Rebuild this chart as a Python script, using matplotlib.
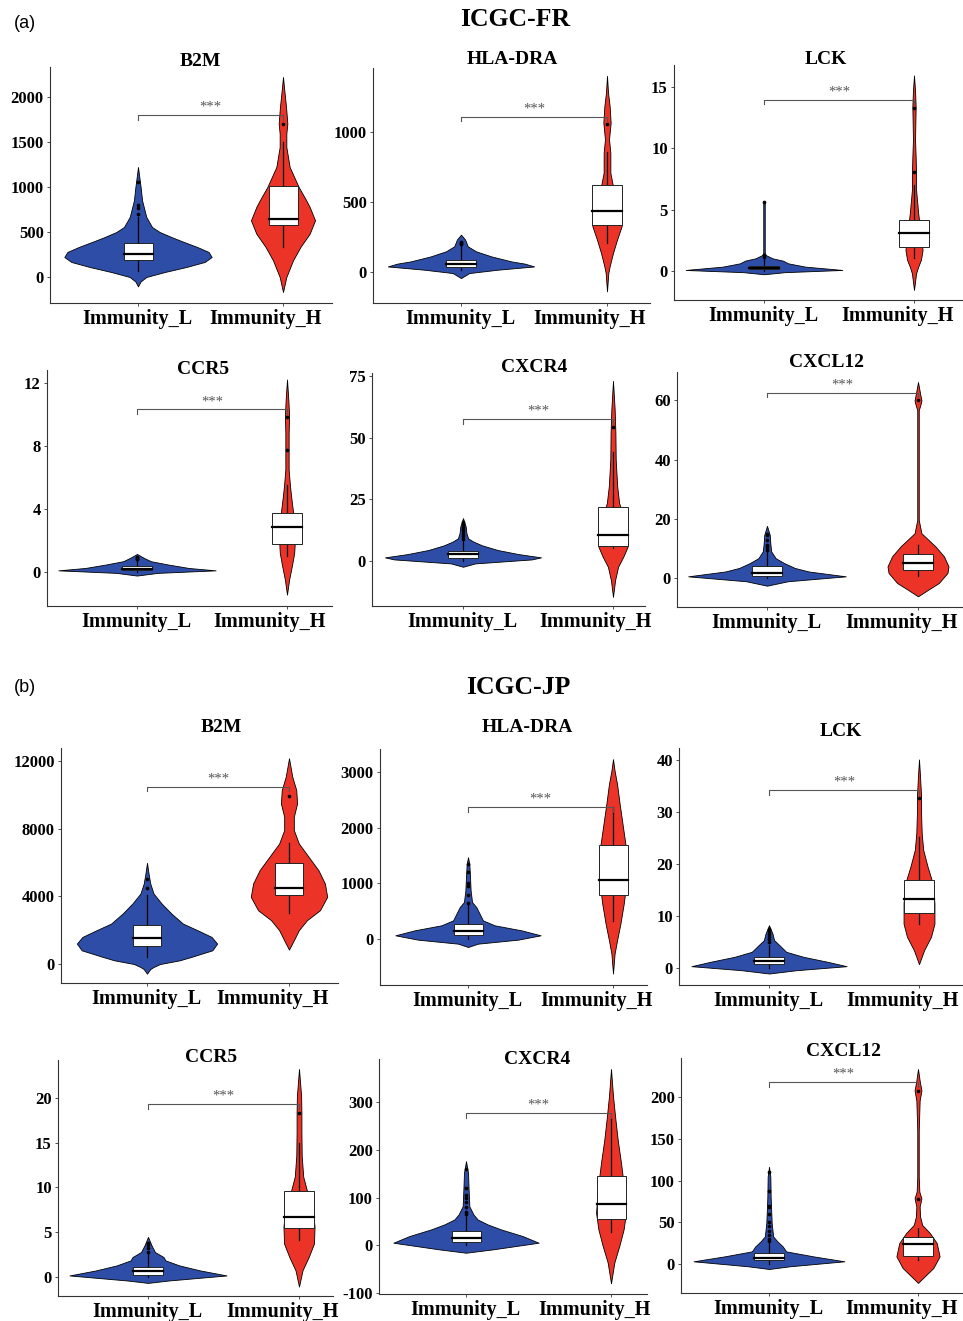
import matplotlib.pyplot as plt
from matplotlib.patches import Rectangle

W, H = 963, 1321
SERIF = "Liberation Serif"
BLUE = "#2E4DA7"
RED = "#EC3327"

groups = ["Immunity_L", "Immunity_H"]

# violin outlines: expression level (y) and half width in category units (w)
# box stats: (whisker low, q1, median, q3, whisker high)

# ---------- ICGC-FR ----------
fr_b2m_l_y = [-104, -50, 0, 55, 111, 167, 222, 278, 333, 400, 444, 500, 555, 667, 852, 1000, 1222]
fr_b2m_l_w = [0, .018, .057, .184, .333, .46, .508, .487, .409, .299, .23, .149, .097, .057, .028, .018, 0]
fr_b2m_h_y = [-167, 0, 185, 333, 481, 630, 778, 852, 1000, 1222, 1444, 1593, 1704, 1889, 2074, 2222]
fr_b2m_h_w = [0, .023, .069, .12, .184, .221, .184, .16, .108, .046, .023, .023, .03, .021, .009, 0]
fr_b2m_box = [(67, 185, 259, 378, 667), (333, 574, 648, 1007, 1500)]
fr_b2m_out = [[700, 770, 800, 1050], [1700]]

fr_hla_l_y = [-43, -7, 17, 40, 60, 76, 94, 112, 148, 184, 232, 267]
fr_hla_l_w = [0, .057, .253, .501, .437, .345, .276, .207, .103, .046, .028, 0]
fr_hla_h_y = [-138, -7, 40, 136, 232, 327, 422, 520, 613, 709, 852, 948, 1067, 1186, 1282, 1401]
fr_hla_h_w = [0, .009, .018, .041, .069, .1, .101, .069, .041, .023, .023, .014, .025, .018, .007, 0]
fr_hla_box = [(17, 33, 60, 88, 190), (208, 334, 434, 621, 857)]
fr_hla_out = [[200, 210, 215], [1060]]

fr_lck_l_y = [-0.27, -0.1, 0.08, 0.2, 0.35, 0.62, 0.84, 1.03, 1.3, 1.5, 5.5, 5.7]
fr_lck_l_w = [0, .138, .522, .414, .276, .161, .126, .057, .011, .005, .005, 0]
fr_lck_h_y = [-1.55, -0.19, 0.35, 0.9, 1.7, 2.5, 3.6, 4.7, 6.6, 7.9, 9.3, 10.7, 13.4, 14.7, 15.95]
fr_lck_h_w = [0, .014, .028, .046, .057, .051, .039, .028, .014, .014, .011, .007, .011, .007, 0]
fr_lck_box = [(0.0, 0.14, 0.27, 0.43, 1.0), (1.03, 1.93, 3.07, 4.15, 7.0)]
fr_lck_out = [[1.1, 1.3, 5.6], [8.1, 13.3]]

fr_ccr5_l_y = [-0.23, -0.06, 0.1, 0.25, 0.47, 0.68, 0.89, 1.04, 1.14]
fr_ccr5_l_w = [0, .138, .524, .345, .207, .092, .046, .018, 0]
fr_ccr5_h_y = [-1.44, -0.49, 0.36, 1.2, 2.05, 2.9, 3.75, 4.6, 5.44, 6.5, 7.55, 8.8, 9.9, 10.9, 12.2]
fr_ccr5_h_w = [0, .014, .032, .048, .053, .051, .041, .03, .02, .011, .011, .011, .014, .009, 0]
fr_ccr5_box = [(0.0, 0.1, 0.21, 0.36, 0.7), (1.0, 1.74, 2.84, 3.75, 5.5)]
fr_ccr5_out = [[0.8, 0.85, 0.9, 0.95], [7.7, 9.8]]

fr_cxcr4_l_y = [-2.3, -0.95, 0.68, 1.5, 2.85, 4.5, 6.4, 7.9, 9.2, 11.3, 14, 17.4]
fr_cxcr4_l_w = [0, .08, .46, .52, .368, .23, .126, .069, .034, .023, .018, 0]
fr_cxcr4_h_y = [-14.5, -7.7, -2.3, 1.8, 5.8, 11.3, 18, 23.5, 30.3, 41.1, 52, 61.5, 73]
fr_cxcr4_h_w = [0, .014, .034, .069, .097, .092, .069, .041, .028, .018, .016, .011, 0]
fr_cxcr4_box = [(0.0, 1.2, 2.7, 3.9, 8.5), (5.2, 6.1, 10.6, 22.1, 44)]
fr_cxcr4_out = [[9, 10, 11, 12, 13, 14, 15, 16], [54.5]]

fr_cxcl12_l_y = [-2.6, -1.1, 0.56, 2.2, 3.4, 5.0, 6.7, 9.0, 11.2, 14.6, 17.6]
fr_cxcl12_l_w = [0, .138, .522, .276, .184, .115, .057, .028, .023, .018, 0]
fr_cxcl12_h_y = [-6.2, -3.9, -1.7, 1.7, 3.9, 7.3, 10.7, 12.9, 15.1, 19.6, 56.7, 58.9, 60, 62.3, 66.2]
fr_cxcl12_h_w = [0, .069, .138, .195, .202, .172, .115, .069, .023, .005, .005, .018, .023, .014, 0]
fr_cxcl12_box = [(0.0, 0.56, 1.6, 3.9, 9.0), (0.6, 2.6, 5.2, 8.1, 11)]
fr_cxcl12_out = [[9.5, 10.5, 11, 13, 14.5, 15], [60]]

# ---------- ICGC-JP ----------
jp_b2m_l_y = [-572, -300, -178, 0, 217, 414, 809, 1204, 1598, 1993, 2387, 2979, 3571, 4163, 4755, 5347, 5978]
jp_b2m_l_w = [0, .023, .046, .092, .23, .31, .46, .494, .455, .356, .253, .172, .103, .046, .023, .011, 0]
jp_b2m_h_y = [848, 1401, 1993, 2585, 3177, 3966, 4755, 5544, 6333, 7123, 7912, 8701, 9490, 10279, 11069, 12154]
jp_b2m_h_w = [0, .034, .069, .126, .218, .269, .253, .207, .138, .069, .034, .034, .057, .051, .023, 0]
jp_b2m_box = [(414, 1065, 1539, 2289, 4064), (3019, 4064, 4518, 5939, 7123)]
jp_b2m_out = [[4500, 5000], [9900]]

jp_hla_l_y = [-144, -84, -12, 66, 156, 246, 335, 455, 575, 665, 874, 1114, 1353, 1473]
jp_hla_l_w = [0, .069, .345, .501, .368, .184, .103, .08, .057, .028, .018, .014, .009, 0]
jp_hla_h_y = [-623, -263, -24, 275, 635, 1114, 1593, 2012, 2431, 2790, 3030, 3240]
jp_hla_h_w = [0, .011, .028, .051, .074, .097, .092, .069, .046, .028, .011, 0]
jp_hla_box = [(0, 66, 144, 275, 640), (317, 796, 1066, 1695, 2371)]
jp_hla_out = [[650, 800, 950, 1000, 1200, 1350], []]

jp_lck_l_y = [-1.09, -0.45, 0.32, 1.16, 2.12, 3.08, 4.37, 5.33, 6.6, 8.2]
jp_lck_l_w = [0, .184, .517, .391, .23, .115, .069, .034, .023, 0]
jp_lck_h_y = [0.71, 3.4, 5.97, 8.5, 12.4, 16.2, 19.5, 22.7, 25.9, 29.7, 32.9, 36.8, 40.1]
jp_lck_h_w = [0, .034, .08, .103, .103, .092, .057, .028, .018, .014, .014, .007, 0]
jp_lck_box = [(0, 0.71, 1.35, 2.12, 4.4), (8.5, 10.6, 13.2, 16.9, 25.2)]
jp_lck_out = [[5, 5.5, 6, 6.5, 7, 7.5], [32.6]]

jp_ccr5_l_y = [-0.64, -0.37, 0.19, 0.75, 1.31, 1.87, 2.24, 2.8, 3.55, 4.49]
jp_ccr5_l_w = [0, .138, .52, .345, .207, .115, .103, .046, .023, 0]
jp_ccr5_h_y = [-1.05, 0.75, 2.24, 3.74, 5.6, 7.5, 9.35, 11.2, 13.5, 16.1, 18.3, 20.2, 23.2]
jp_ccr5_h_w = [0, .023, .064, .099, .103, .092, .057, .028, .018, .016, .016, .014, 0]
jp_ccr5_box = [(0, 0.19, 0.67, 1.12, 2.7), (4.1, 5.5, 6.65, 9.6, 15)]
jp_ccr5_out = [[2.8, 3.2, 3.6, 3.8], [18.3]]

jp_cxcr4_l_y = [-15.4, -8.4, 5.6, 19.5, 33.5, 44, 54.4, 65, 82, 117, 152, 176.6]
jp_cxcr4_l_w = [0, .184, .501, .391, .241, .149, .08, .051, .023, .018, .014, 0]
jp_cxcr4_h_y = [-79.6, -36, -1.4, 33.5, 68.4, 117, 173, 222, 271, 313, 370]
jp_cxcr4_h_w = [0, .023, .057, .087, .103, .092, .069, .046, .028, .014, 0]
jp_cxcr4_box = [(0, 7.7, 14.7, 30, 61), (28.6, 54.4, 85.8, 145, 267)]
jp_cxcr4_out = [[65, 70, 80, 90, 100, 105, 120, 160], []]

jp_cxcl12_l_y = [-6, -2.8, 3.2, 9.1, 15.1, 21.1, 27, 33, 49, 80.7, 104.6, 116.5]
jp_cxcl12_l_w = [0, .138, .506, .299, .115, .092, .057, .028, .018, .011, .009, 0]
jp_cxcl12_h_y = [-22.7, -14.7, -4.8, 9.1, 25, 37, 46.9, 56.9, 68.8, 78.7, 86.7, 104.6, 160, 196, 208, 220, 233.8]
jp_cxcl12_h_w = [0, .046, .103, .145, .126, .08, .028, .014, .011, .023, .009, .005, .005, .011, .023, .011, 0]
jp_cxcl12_box = [(0, 5.2, 7.2, 13.1, 25), (5.2, 9.9, 23.9, 31.8, 43)]
jp_cxcl12_out = [[27, 30, 35, 40, 45, 50, 60, 68, 70, 88, 110], [77.5, 208]]

# significance bracket heights
fr_brackets = [1796, 1110, 13.97, 10.3, 57.4, 62.6]
jp_brackets = [10476, 2371, 34.2, 19.25, 277.8, 218]

panels = [
    ("B2M", (fr_b2m_l_y, fr_b2m_l_w), (fr_b2m_h_y, fr_b2m_h_w), fr_b2m_box, fr_b2m_out, fr_brackets[0],
     [0, 500, 1000, 1500, 2000]),
    ("HLA-DRA", (fr_hla_l_y, fr_hla_l_w), (fr_hla_h_y, fr_hla_h_w), fr_hla_box, fr_hla_out, fr_brackets[1],
     [0, 500, 1000]),
    ("LCK", (fr_lck_l_y, fr_lck_l_w), (fr_lck_h_y, fr_lck_h_w), fr_lck_box, fr_lck_out, fr_brackets[2],
     [0, 5, 10, 15]),
    ("CCR5", (fr_ccr5_l_y, fr_ccr5_l_w), (fr_ccr5_h_y, fr_ccr5_h_w), fr_ccr5_box, fr_ccr5_out, fr_brackets[3],
     [0, 4, 8, 12]),
    ("CXCR4", (fr_cxcr4_l_y, fr_cxcr4_l_w), (fr_cxcr4_h_y, fr_cxcr4_h_w), fr_cxcr4_box, fr_cxcr4_out,
     fr_brackets[4], [0, 25, 50, 75]),
    ("CXCL12", (fr_cxcl12_l_y, fr_cxcl12_l_w), (fr_cxcl12_h_y, fr_cxcl12_h_w), fr_cxcl12_box, fr_cxcl12_out,
     fr_brackets[5], [0, 20, 40, 60]),
    ("B2M", (jp_b2m_l_y, jp_b2m_l_w), (jp_b2m_h_y, jp_b2m_h_w), jp_b2m_box, jp_b2m_out, jp_brackets[0],
     [0, 4000, 8000, 12000]),
    ("HLA-DRA", (jp_hla_l_y, jp_hla_l_w), (jp_hla_h_y, jp_hla_h_w), jp_hla_box, jp_hla_out, jp_brackets[1],
     [0, 1000, 2000, 3000]),
    ("LCK", (jp_lck_l_y, jp_lck_l_w), (jp_lck_h_y, jp_lck_h_w), jp_lck_box, jp_lck_out, jp_brackets[2],
     [0, 10, 20, 30, 40]),
    ("CCR5", (jp_ccr5_l_y, jp_ccr5_l_w), (jp_ccr5_h_y, jp_ccr5_h_w), jp_ccr5_box, jp_ccr5_out, jp_brackets[3],
     [0, 5, 10, 15, 20]),
    ("CXCR4", (jp_cxcr4_l_y, jp_cxcr4_l_w), (jp_cxcr4_h_y, jp_cxcr4_h_w), jp_cxcr4_box, jp_cxcr4_out,
     jp_brackets[4], [-100, 0, 100, 200, 300]),
    ("CXCL12", (jp_cxcl12_l_y, jp_cxcl12_l_w), (jp_cxcl12_h_y, jp_cxcl12_h_w), jp_cxcl12_box, jp_cxcl12_out,
     jp_brackets[5], [0, 50, 100, 150, 200]),
]

# layout in pixels: axes (left, right, top, bottom, x of group 1, x of group 2), y limits, title centre
layout = [
    ((50, 332, 67, 303, 138, 283), (-289, 2333), (200, 62)),
    ((373, 650, 68, 303, 461, 607), (-221, 1457), (512, 60)),
    ((674, 963, 65, 300, 764, 914), (-2.37, 16.8), (826, 60)),
    ((47, 332, 370, 606, 137, 287), (-2.16, 12.8), (203, 369)),
    ((372, 645, 373, 606, 463, 613), (-18.2, 76.2), (534, 367)),
    ((677, 963, 372, 607, 767, 918), (-9.8, 69.6), (826, 362)),
    ((61, 338, 748, 983, 147, 289), (-1123, 12762), (221, 728)),
    ((380, 647, 749, 985, 468, 613), (-829, 3423), (527, 728)),
    ((679, 963, 748, 985, 769, 919), (-3.3, 42.3), (841, 731)),
    ((58, 333, 1060, 1296, 148, 299), (-2.1, 24.2), (211, 1057)),
    ((379, 647, 1059, 1294, 466, 611), (-102, 391), (537, 1060)),
    ((681, 963, 1058, 1293, 769, 918), (-34.8, 247), (843, 1052)),
]

# horizontal nudge (pixels) of the group labels under the axis
label_shift = [-1, -17]


def draw_panel(fig, data, lay):
    gene, vio_l, vio_h, boxes, outs, bracket, yticks = data
    (left, right, top, bottom, xl, xh), ylim, (tx, ty) = lay
    ax = fig.add_axes([left / W, 1 - bottom / H, (right - left) / W, (bottom - top) / H])
    d = xh - xl
    ax.set_xlim(1 - (xl - left) / d, 2 + (right - xh) / d)
    ax.set_ylim(ylim)

    for x, (ys, ws), color, box, out in zip([1, 2], [vio_l, vio_h], [BLUE, RED], boxes, outs):
        ax.fill_betweenx(ys, [x - w for w in ws], [x + w for w in ws],
                         facecolor=color, edgecolor="black", linewidth=0.6, zorder=1)
        lo, q1, med, q3, hi = box
        ax.plot([x, x], [lo, q1], color="black", lw=0.9, zorder=2)
        ax.plot([x, x], [q3, hi], color="black", lw=0.9, zorder=2)
        ax.add_patch(Rectangle((x - 0.1, q1), 0.2, q3 - q1, facecolor="white",
                               edgecolor="#222222", linewidth=0.7, zorder=3))
        ax.plot([x - 0.1, x + 0.1], [med, med], color="black", lw=1.6, zorder=4)
        if out:
            ax.scatter([x] * len(out), out, s=7, color="black", zorder=5, linewidths=0)

    span = ylim[1] - ylim[0]
    drop = 0.02 * span
    ax.plot([1, 1, 2, 2], [bracket - drop, bracket, bracket, bracket - drop],
            color="#555555", lw=0.8, zorder=6)
    ax.annotate("***", xy=(1.5, bracket), xytext=(0, 1), textcoords="offset points",
                ha="center", va="bottom", fontsize=10.5, color="#555555", family=SERIF)

    for s in ["top", "right"]:
        ax.spines[s].set_visible(False)
    for s in ["left", "bottom"]:
        ax.spines[s].set_linewidth(0.8)
        ax.spines[s].set_color("#333333")
    ax.set_xticks([1, 2])
    ax.set_xticklabels([])
    for x, name, dx in zip([1, 2], groups, label_shift):
        ax.annotate(name, xy=(x, 0), xycoords=ax.get_xaxis_transform(),
                    xytext=(dx * 0.72, -4.5), textcoords="offset points",
                    ha="center", va="top", fontsize=14.5, fontweight="bold", family=SERIF)
    ax.set_yticks(yticks)
    ax.set_yticklabels([str(t) for t in yticks], fontsize=12, fontweight="bold", family=SERIF)
    ax.tick_params(axis="both", length=2.5, width=0.6, color="#333333")
    ax.tick_params(axis="y", pad=2)

    fig.text(tx / W, 1 - ty / H, gene, ha="center", va="center", fontsize=14,
             fontweight="bold", family=SERIF)


fig = plt.figure(figsize=(W / 100, H / 100), dpi=100)

for data, lay in zip(panels, layout):
    draw_panel(fig, data, lay)

fig.text(515 / W, 1 - 20 / H, "ICGC-FR", ha="center", va="center", fontsize=18.5,
         fontweight="bold", family=SERIF)
fig.text(518 / W, 1 - 688 / H, "ICGC-JP", ha="center", va="center", fontsize=18.5,
         fontweight="bold", family=SERIF)
fig.text(14 / W, 1 - 23 / H, "(a)", ha="left", va="center", fontsize=13, family="Liberation Sans")
fig.text(14 / W, 1 - 688 / H, "(b)", ha="left", va="center", fontsize=13, family="Liberation Sans")

fig.savefig("out.png", dpi=100)
